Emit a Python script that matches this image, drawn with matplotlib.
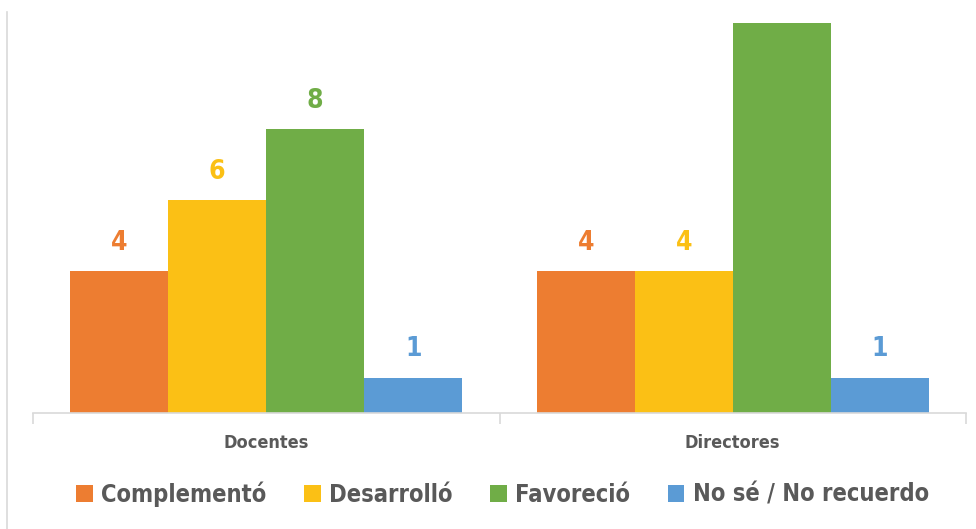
import matplotlib
matplotlib.use("Agg")
import matplotlib.pyplot as plt
from matplotlib.lines import Line2D
import numpy as np

plt.rcParams['font.family'] = ['DejaVu Sans']
plt.rcParams['font.stretch'] = 'condensed'

groups = ["Docentes", "Directores"]
series = ["Complementó", "Desarrolló", "Favoreció", "No sé / No recuerdo"]
values = [
    [4, 4],    # Complementó
    [6, 4],    # Desarrolló
    [8, 11],   # Favoreció
    [1, 1],    # No sé / No recuerdo
]
colors = ["#ED7D31", "#FBC015", "#70AD47", "#5B9BD5"]

fig = plt.figure(figsize=(9.76, 5.29), dpi=100)
ax = fig.add_axes([33 / 976, 116 / 529, 933 / 976, 401 / 529])

ymax = 11.3
width = 0.21
centers = np.arange(len(groups)) + 0.5
for i, (name, vals, c) in enumerate(zip(series, values, colors)):
    x = centers + (i - 1.5) * width
    ax.bar(x, vals, width=width, color=c, label=name)
    for xi, v in zip(x, vals):
        if v + 1 > ymax:
            continue  # label would sit above the plot area
        ax.annotate(str(v), (xi, v), xytext=(0, 11), textcoords="offset points",
                    ha="center", va="bottom", fontsize=19, fontweight="bold",
                    color=c)

ax.set_xlim(0, 2)
ax.set_ylim(0, ymax)
ax.set_yticks([])
for s in ["top", "right", "left"]:
    ax.spines[s].set_visible(False)
ax.spines["bottom"].set_color("#d9d9d9")
ax.spines["bottom"].set_linewidth(1.2)

# category separators below the baseline
ax.set_xticks([0, 1, 2])
ax.set_xticklabels([])
ax.tick_params(axis="x", length=8, color="#d9d9d9", width=1.2)
ax.set_xticks(centers, minor=True)
ax.set_xticklabels(groups, minor=True, fontsize=13, fontweight="bold", color="#595959")
ax.tick_params(axis="x", which="minor", length=0, pad=15)

fig.legend(loc="center", bbox_to_anchor=(0.515, 1 - 494 / 529), ncol=4, frameon=False,
           handlelength=0.7, handleheight=0.75, handletextpad=0.35,
           columnspacing=1.6, labelcolor="#595959",
           prop={"weight": "bold", "size": 17, "stretch": "condensed"})

# thin border along the left edge
fig.add_artist(Line2D([7 / 976, 7 / 976], [0, 1 - 12 / 529], transform=fig.transFigure,
                      color="#d9d9d9", linewidth=1.2))

fig.savefig("out.png", dpi=100, facecolor="white")
